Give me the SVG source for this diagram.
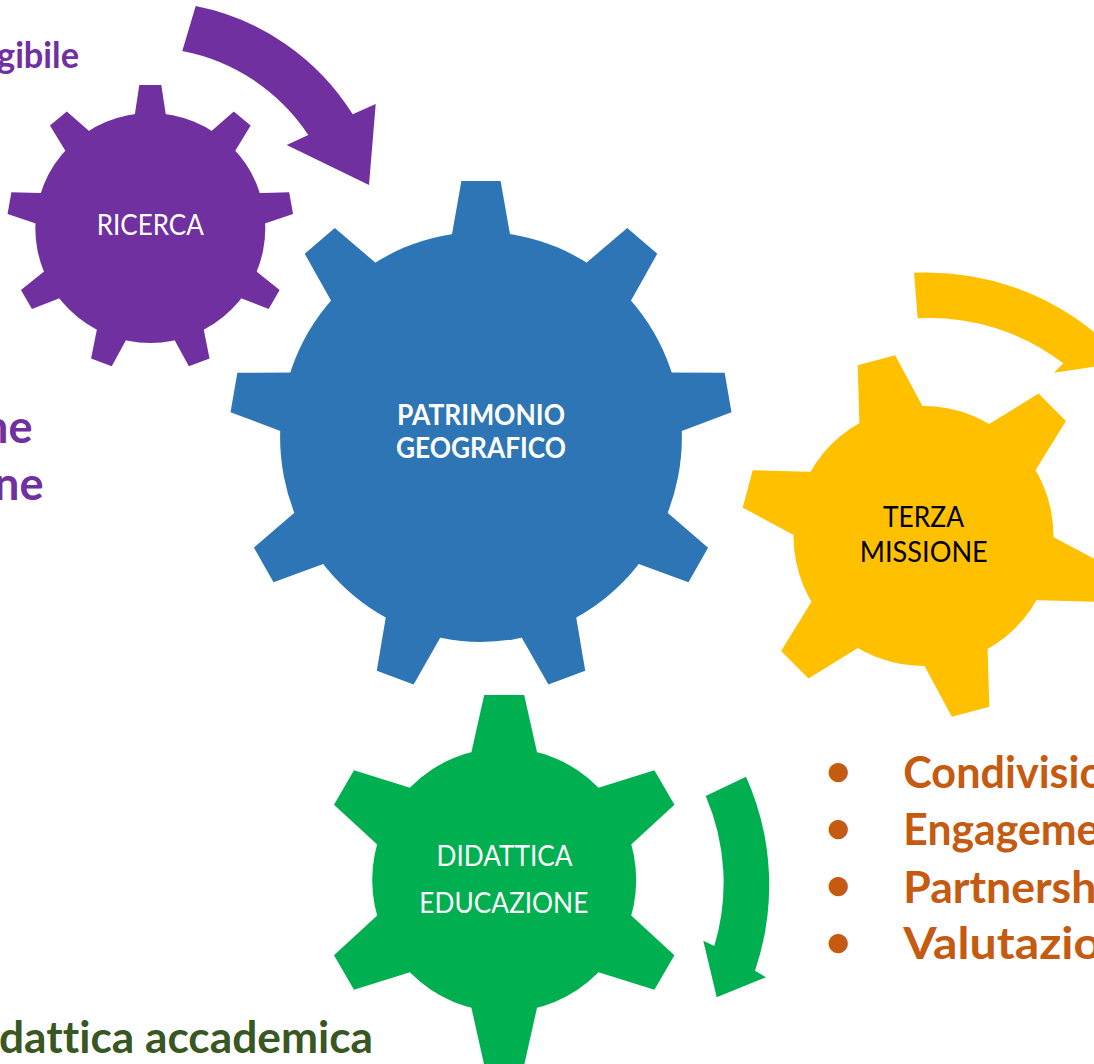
<svg xmlns="http://www.w3.org/2000/svg" width="1094" height="1064" viewBox="0 0 1094 1064">
<style>
text{font-family:Lato,"Open Sans","Liberation Sans",sans-serif;font-variant-ligatures:none}
.lbl{font-size:28px;text-anchor:middle}
.w{fill:#FFFFFF}
.k{fill:#000000}
.b{font-weight:bold}
.side{font-weight:bold}
.pur{fill:#7030A0}
.org{fill:#C55A11;font-size:44px;font-weight:bold}
.dg{fill:#385723;font-size:43px;font-weight:bold}
</style>
<defs>
<polygon id="tB" points="-31,-195 -20,-256 20,-256 31,-195"/>
<polygon id="tP" points="-16.8,-105 -11,-143 11,-143 16.8,-105"/>
<polygon id="tY" points="-34,-120 -19.4,-182 19.4,-182 34,-120"/>
<polygon id="tG" points="-35,-118 -20,-185 20,-185 35,-118"/>
</defs>

<g id="connectors">
<path id="arrow-purple" fill="#7030A0" d="M195.7,6 A240,240 0 0 1 352.7,114.3 L375.7,104 L369,185 L286.7,145 L308.3,135 A195,195 0 0 0 182.3,51 Z"/>
<path id="arrow-yellow" fill="#FFC000" d="M914,272.7 A265,265 0 0 1 1100,337 L1112,329 L1130,361.3 L1054,372.7 L1063.3,363.3 A220,220 0 0 0 917.7,318.3 Z"/>
<path id="arrow-green" fill="#00B050" d="M746,776.7 A265,265 0 0 1 755,970.7 L766,977.3 L716.7,997.3 L703.3,940.7 L714.3,946 A219,219 0 0 0 705.7,796 Z"/>
</g>

<g id="gear-ricerca">
<g fill="#7030A0" transform="translate(150.3,228)">
<circle r="115"/>
<use href="#tP"/><use href="#tP" transform="rotate(40)"/><use href="#tP" transform="rotate(80)"/><use href="#tP" transform="rotate(120)"/><use href="#tP" transform="rotate(160)"/><use href="#tP" transform="rotate(200)"/><use href="#tP" transform="rotate(240)"/><use href="#tP" transform="rotate(280)"/><use href="#tP" transform="rotate(320)"/>
</g>
<text class="lbl w" x="150.3" y="235" textLength="107" lengthAdjust="spacingAndGlyphs">RICERCA</text>
</g>

<g id="gear-patrimonio">
<g fill="#2E75B6" transform="translate(481,437) scale(0.98,1)">
<circle r="205"/>
<use href="#tB"/><use href="#tB" transform="rotate(40)"/><use href="#tB" transform="rotate(80)"/><use href="#tB" transform="rotate(120)"/><use href="#tB" transform="rotate(160)"/><use href="#tB" transform="rotate(200)"/><use href="#tB" transform="rotate(240)"/><use href="#tB" transform="rotate(280)"/><use href="#tB" transform="rotate(320)"/>
</g>
<text class="lbl w b" x="481" y="425" textLength="168" lengthAdjust="spacingAndGlyphs">PATRIMONIO</text>
<text class="lbl w b" x="481" y="458" textLength="170" lengthAdjust="spacingAndGlyphs">GEOGRAFICO</text>
</g>

<g id="gear-terza">
<g fill="#FFC000" transform="translate(923.5,536)">
<circle r="130"/>
<use href="#tY" transform="rotate(-15)"/><use href="#tY" transform="rotate(45)"/><use href="#tY" transform="rotate(105)"/><use href="#tY" transform="rotate(165)"/><use href="#tY" transform="rotate(225)"/><use href="#tY" transform="rotate(285)"/>
</g>
<text class="lbl k" x="923.5" y="526.7" textLength="81" lengthAdjust="spacingAndGlyphs">TERZA</text>
<text class="lbl k" x="923.8" y="561.7" textLength="128" lengthAdjust="spacingAndGlyphs">MISSIONE</text>
</g>

<g id="gear-didattica">
<g fill="#00B050" transform="translate(504.2,880)">
<circle r="132"/>
<use href="#tG"/><use href="#tG" transform="rotate(60)"/><use href="#tG" transform="rotate(120)"/><use href="#tG" transform="rotate(180)"/><use href="#tG" transform="rotate(240)"/><use href="#tG" transform="rotate(300)"/>
</g>
<text class="lbl w" x="504.5" y="865.7" textLength="136" lengthAdjust="spacingAndGlyphs">DIDATTICA</text>
<text class="lbl w" x="503.8" y="913.3" textLength="169" lengthAdjust="spacingAndGlyphs">EDUCAZIONE</text>
</g>

<g id="side-texts">
<text class="side pur" x="-3" y="68.3" font-size="36" textLength="82" lengthAdjust="spacingAndGlyphs">gibile</text>
<text class="side pur" x="32.5" y="442.7" font-size="45" text-anchor="end">ne</text>
<text class="side pur" x="43.5" y="500" font-size="45" text-anchor="end">ne</text>
<text class="dg" x="-1" y="1053" textLength="374" lengthAdjust="spacingAndGlyphs">dattica accademica</text>
<text class="org" x="838.3" y="786" text-anchor="middle">•</text>
<text class="org" x="838.3" y="842.6" text-anchor="middle">•</text>
<text class="org" x="838.3" y="900.3" text-anchor="middle">•</text>
<text class="org" x="838.3" y="957" text-anchor="middle">•</text>
<text class="org" x="903.3" y="788.3" textLength="201" lengthAdjust="spacingAndGlyphs">Condivisio</text>
<text class="org" x="903.3" y="844.5" textLength="196" lengthAdjust="spacingAndGlyphs">Engageme</text>
<text class="org" x="903.3" y="902.7" textLength="193" lengthAdjust="spacingAndGlyphs">Partnersh</text>
<text class="org" x="903.3" y="959" textLength="198" lengthAdjust="spacingAndGlyphs">Valutazio</text>
</g>
</svg>
